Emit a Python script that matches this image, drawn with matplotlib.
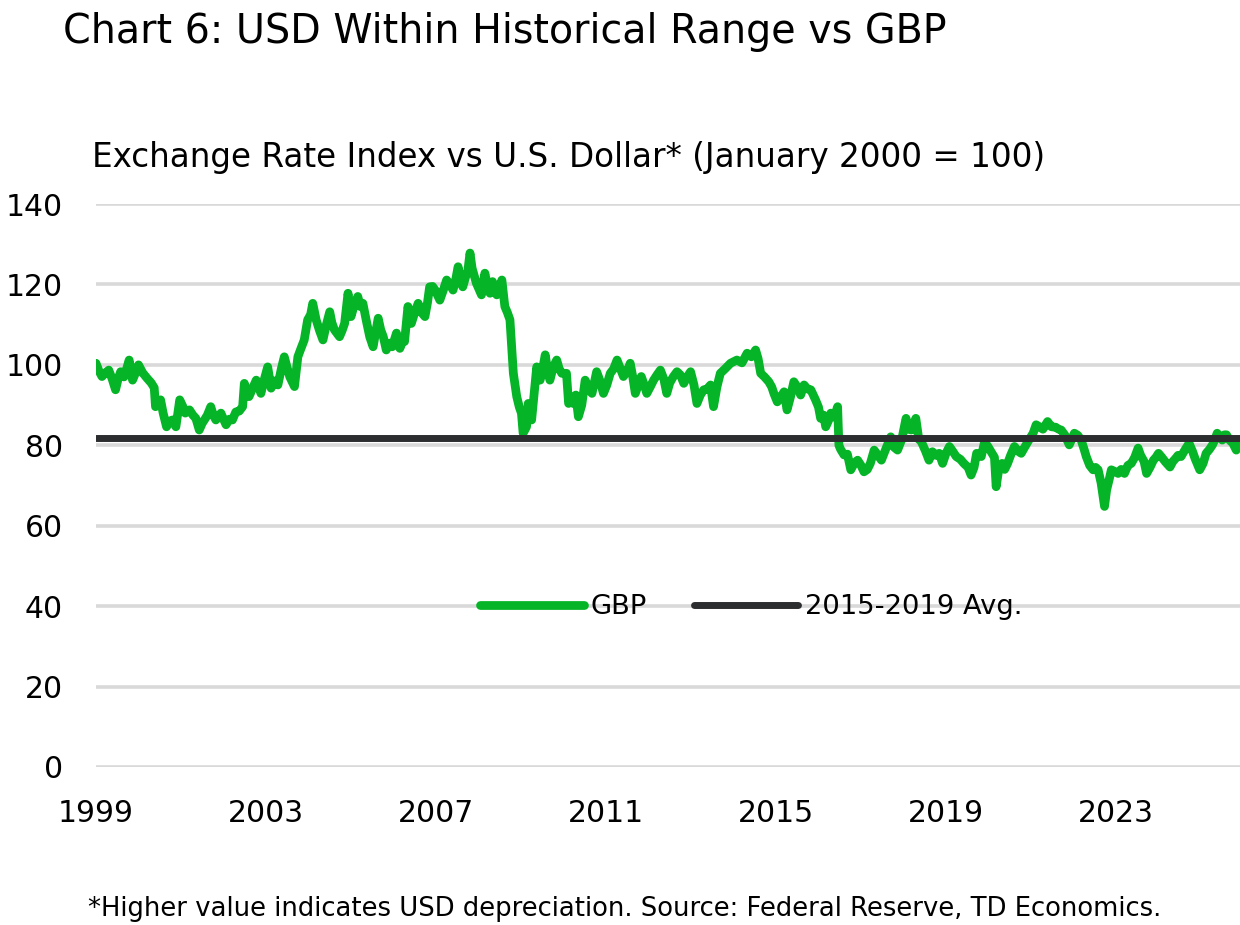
import matplotlib
matplotlib.use("Agg")
import matplotlib.pyplot as plt

# GBP exchange rate index vs USD (Jan 2000 = 100)
dates = [
    1999.00, 1999.07, 1999.14, 1999.22, 1999.30, 1999.38, 1999.46, 1999.52, 1999.58, 1999.66, 1999.72, 1999.78, 1999.86, 1999.93,
    2000.00, 2000.10, 2000.20, 2000.30, 2000.37, 2000.40, 2000.47, 2000.52, 2000.58, 2000.66, 2000.73, 2000.80, 2000.88, 2000.97,
    2001.05, 2001.10, 2001.20, 2001.28, 2001.35, 2001.43, 2001.50, 2001.55, 2001.62, 2001.70, 2001.76, 2001.82, 2001.88, 2001.94,
    2002.00, 2002.06, 2002.14, 2002.21, 2002.29, 2002.37, 2002.45, 2002.49, 2002.55, 2002.60, 2002.68, 2002.77, 2002.83, 2002.88, 2002.95,
    2003.04, 2003.12, 2003.20, 2003.28, 2003.36, 2003.43, 2003.49, 2003.56, 2003.67, 2003.75, 2003.82, 2003.90, 2003.98,
    2004.05, 2004.10, 2004.18, 2004.26, 2004.34, 2004.42, 2004.50, 2004.55, 2004.61, 2004.73, 2004.79, 2004.85, 2004.93,
    2005.00, 2005.08, 2005.16, 2005.22, 2005.28, 2005.36, 2005.44, 2005.52, 2005.58, 2005.64, 2005.70, 2005.76, 2005.83, 2005.90, 2005.97,
    2006.07, 2006.15, 2006.22, 2006.26, 2006.34, 2006.42, 2006.50, 2006.58, 2006.66, 2006.74, 2006.80, 2006.85, 2006.92, 2006.98,
    2007.09, 2007.17, 2007.25, 2007.33, 2007.40, 2007.46, 2007.52, 2007.58, 2007.63, 2007.70, 2007.75, 2007.80, 2007.85, 2007.95,
    2008.07, 2008.15, 2008.22, 2008.27, 2008.33, 2008.43, 2008.50, 2008.55, 2008.62, 2008.68, 2008.74, 2008.78, 2008.82, 2008.86, 2008.90, 2008.96,
    2009.01, 2009.05, 2009.13, 2009.17, 2009.25, 2009.31, 2009.37, 2009.45, 2009.51, 2009.57, 2009.62, 2009.68, 2009.76, 2009.84, 2009.90, 2009.96,
    2010.07, 2010.12, 2010.18, 2010.23, 2010.29, 2010.35, 2010.43, 2010.51, 2010.60, 2010.67, 2010.78, 2010.86, 2010.94,
    2011.02, 2011.10, 2011.18, 2011.26, 2011.34, 2011.41, 2011.50, 2011.57, 2011.63, 2011.69, 2011.76, 2011.83, 2011.90, 2011.96,
    2012.04, 2012.12, 2012.20, 2012.28, 2012.36, 2012.43, 2012.50, 2012.58, 2012.67, 2012.75, 2012.83, 2012.91, 2012.99,
    2013.07, 2013.14, 2013.22, 2013.30, 2013.38, 2013.46, 2013.53, 2013.61, 2013.69, 2013.80, 2013.93,
    2014.08, 2014.20, 2014.32, 2014.42, 2014.52, 2014.58, 2014.64, 2014.73, 2014.83, 2014.90, 2014.95,
    2015.03, 2015.11, 2015.19, 2015.26, 2015.34, 2015.42, 2015.50, 2015.58, 2015.66, 2015.74, 2015.82, 2015.93,
    2016.00, 2016.05, 2016.12, 2016.17, 2016.23, 2016.29, 2016.37, 2016.45, 2016.48, 2016.52, 2016.60, 2016.68, 2016.76, 2016.84, 2016.92,
    2017.00, 2017.07, 2017.15, 2017.22, 2017.31, 2017.40, 2017.48, 2017.58, 2017.70, 2017.78, 2017.86, 2017.96,
    2018.06, 2018.12, 2018.18, 2018.29, 2018.36, 2018.42, 2018.52, 2018.60, 2018.68, 2018.76, 2018.84, 2018.92,
    2019.00, 2019.08, 2019.16, 2019.24, 2019.34, 2019.42, 2019.52, 2019.59, 2019.66, 2019.72, 2019.83, 2019.90, 2019.97,
    2020.06, 2020.14, 2020.18, 2020.24, 2020.32, 2020.38, 2020.45, 2020.52, 2020.61, 2020.70, 2020.77, 2020.85, 2020.95,
    2021.05, 2021.12, 2021.20, 2021.28, 2021.39, 2021.48, 2021.58, 2021.65, 2021.71, 2021.80, 2021.90,
    2022.02, 2022.10, 2022.18, 2022.25, 2022.30, 2022.38, 2022.46, 2022.52, 2022.58, 2022.65, 2022.73, 2022.78, 2022.84, 2022.89, 2022.97,
    2023.05, 2023.12, 2023.20, 2023.28, 2023.36, 2023.44, 2023.52, 2023.58, 2023.66, 2023.72, 2023.80, 2023.88, 2023.94,
    2024.00, 2024.08, 2024.16, 2024.27, 2024.34, 2024.40, 2024.46, 2024.53, 2024.63, 2024.72, 2024.80, 2024.86, 2024.97,
    2025.05, 2025.12, 2025.20, 2025.27, 2025.33, 2025.38, 2025.45, 2025.50, 2025.55, 2025.60, 2025.67, 2025.75, 2025.83, 2025.88,
]
gbp = [
    100.4, 98.5, 97.1, 98.0, 98.7, 96.5, 93.8, 96.5, 98.3, 97.0, 99.0, 101.2, 96.2, 98.0,
    100.0, 98.0, 96.7, 95.5, 94.3, 89.6, 90.5, 91.3, 88.0, 84.6, 86.0, 86.3, 84.6, 91.3,
    89.5, 88.0, 88.8, 87.5, 86.7, 83.8, 85.5, 86.3, 87.5, 89.6, 87.5, 86.3, 87.0, 88.0,
    86.5, 85.1, 86.5, 86.3, 88.3, 88.5, 89.6, 95.4, 93.5, 92.1, 94.0, 96.2, 94.5, 92.9, 96.0,
    99.5, 94.2, 96.0, 95.0, 99.0, 102.0, 99.6, 97.0, 94.6, 102.0, 104.0, 106.2, 111.2,
    112.5, 115.3, 111.2, 108.5, 106.2, 110.0, 113.2, 110.5, 108.7, 107.0, 108.5, 110.3, 117.8,
    112.0, 115.0, 117.0, 114.5, 115.3, 111.0, 107.0, 104.5, 108.0, 111.6, 108.7, 107.0, 103.7, 105.4, 104.5,
    107.9, 104.1, 106.0, 105.8, 114.5, 110.3, 113.0, 115.3, 113.0, 112.0, 115.5, 119.4, 119.5, 118.6,
    116.1, 118.5, 121.1, 120.0, 118.6, 121.0, 124.4, 121.0, 119.4, 122.0, 123.5, 127.8, 124.0, 120.3,
    117.4, 122.8, 119.0, 117.8, 120.7, 117.4, 119.5, 121.1, 114.5, 113.0, 111.2, 104.5, 97.9, 95.0, 92.1, 89.5,
    88.0, 83.0, 84.6, 90.4, 86.3, 93.0, 99.5, 96.2, 99.0, 102.5, 99.0, 96.2, 99.5, 101.2, 99.0, 97.9,
    97.9, 90.4, 92.0, 90.4, 92.5, 87.1, 90.0, 96.2, 94.0, 92.9, 98.3, 96.0, 92.9,
    95.0, 97.9, 99.0, 101.2, 99.0, 97.1, 98.5, 100.4, 97.0, 92.9, 95.0, 97.1, 95.0, 92.9,
    94.5, 96.2, 97.5, 98.7, 96.5, 92.9, 95.5, 97.0, 98.3, 97.5, 95.4, 97.0, 98.3,
    95.0, 90.4, 92.5, 93.8, 94.0, 95.0, 89.6, 94.5, 97.9, 99.0, 100.4,
    101.2, 100.5, 102.9, 102.0, 103.7, 101.5, 97.9, 97.0, 95.8, 94.5, 92.9,
    90.8, 92.0, 93.3, 88.8, 92.0, 95.8, 94.5, 92.5, 95.0, 94.0, 93.8, 91.3,
    89.5, 86.7, 87.5, 84.6, 86.0, 88.0, 87.0, 89.6, 80.0, 79.0, 77.6, 77.8, 73.9, 75.5, 76.3,
    75.0, 73.4, 74.0, 75.5, 78.8, 77.5, 76.3, 79.0, 82.1, 79.5, 78.8, 81.5,
    86.7, 84.0, 83.8, 86.7, 81.5, 80.9, 78.5, 76.3, 78.4, 77.5, 78.0, 75.5,
    78.0, 79.7, 78.5, 77.2, 76.5, 75.5, 74.5, 72.6, 74.5, 78.0, 77.2, 80.5, 80.0,
    78.4, 77.0, 69.7, 73.9, 75.5, 74.0, 75.5, 77.5, 79.7, 78.5, 78.0, 79.5, 81.3,
    83.0, 85.1, 84.6, 84.0, 85.9, 84.6, 84.5, 84.0, 83.8, 82.5, 80.1,
    83.0, 82.5, 81.3, 79.0, 77.2, 75.0, 73.9, 74.5, 73.9, 70.6, 64.8, 68.9, 71.5, 73.9, 73.5,
    73.0, 74.0, 73.0, 75.0, 75.5, 77.0, 79.3, 77.5, 76.0, 73.0, 74.5, 76.3, 77.0,
    78.0, 77.0, 75.9, 74.6, 76.0, 76.7, 77.5, 77.2, 79.0, 80.5, 78.5, 76.7, 73.9,
    75.5, 78.0, 79.0, 80.1, 81.5, 83.0, 82.0, 81.3, 82.6, 82.6, 81.3, 80.5, 78.8, 80.0,
]
avg_2015_2019 = 81.8

year_ticks = [1999, 2003, 2007, 2011, 2015, 2019, 2023]
y_ticks = [0, 20, 40, 60, 80, 100, 120, 140]

title = "Chart 6: USD Within Historical Range vs GBP"
subtitle = "Exchange Rate Index vs U.S. Dollar* (January 2000 = 100)"
footnote = "*Higher value indicates USD depreciation. Source: Federal Reserve, TD Economics."

GREEN = "#05b427"
DARK = "#2b2d2f"
GRID = "#d9d9d9"

plt.rcParams["font.family"] = ["DejaVu Sans"]

fig = plt.figure(figsize=(12.4, 9.25), dpi=100)
ax = fig.add_axes([96 / 1240, 1 - 767 / 925, 1 - 96 / 1240, (767 - 204) / 925])

ax.plot(dates, gbp, color=GREEN, linewidth=6.3, solid_capstyle="round",
        solid_joinstyle="round", label="GBP", zorder=3)
ax.axhline(avg_2015_2019, color=DARK, linewidth=5, solid_capstyle="round",
           label="2015-2019 Avg.", zorder=4)

ax.set_xlim(1999, 1999 + (1240 - 96) / 42.5)
ax.set_ylim(0, 140)
ax.set_xticks(year_ticks)
ax.set_xticklabels([str(y) for y in year_ticks])
ax.set_yticks(y_ticks)
ax.grid(axis="y", color=GRID, linewidth=2.6, zorder=0)
ax.set_axisbelow(True)
for s in ax.spines.values():
    s.set_visible(False)
ax.tick_params(axis="both", length=0, labelsize=21.5, colors="black")
ax.tick_params(axis="x", pad=23)
ax.tick_params(axis="y", pad=24)

ax.legend(loc="center", bbox_to_anchor=(0.5726, 0.284), ncol=2, frameon=False,
          fontsize=19.7, handlelength=3.8, handletextpad=0.26, columnspacing=1.7)

fig.text(63 / 1240, 1 - 32 / 925, title, fontsize=28.5, va="center", ha="left")
fig.text(92 / 1240, 1 - 158 / 925, subtitle, fontsize=23.5, va="center", ha="left")
fig.text(88 / 1240, 1 - 909 / 925, footnote, fontsize=18.6, va="center", ha="left")

assert len(dates) == len(gbp)
fig.savefig("out.png", dpi=100)
